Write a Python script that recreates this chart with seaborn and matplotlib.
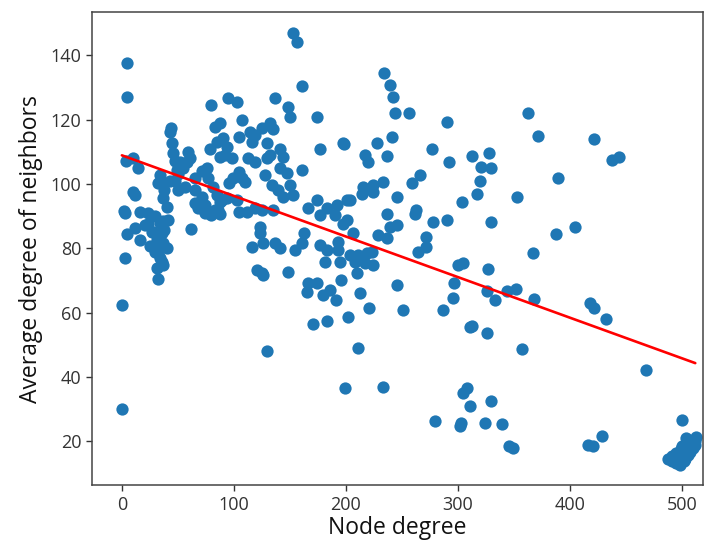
import numpy as np
import pandas as pd
import matplotlib
matplotlib.use("Agg")
import matplotlib.pyplot as plt
import seaborn as sns

# Node degree (x) and average degree of neighbors (y)
node_degree = [
    5, 5, 0, 0, 3, 2, 4, 10, 14, 10, 12, 3, 5, 32, 62, 37,
    16, 23, 29.5, 34, 20.5, 27, 32, 36.6, 11.6, 16, 25, 29.5, 34, 36.6, 38, 41,
    23, 28, 31, 32, 36, 40, 34, 31, 36,
    44, 43, 80, 45, 45.5, 47, 59, 61, 54.5, 50, 36, 38, 37, 40, 47, 50, 56, 65,
    71.5, 76, 65, 65, 68, 74, 80, 86, 89, 83, 78.5, 85, 87.5, 34, 32, 43, 49,
    52, 58, 77, 81, 85, 71.5, 74, 83,
    161, 95, 102.5, 137, 148, 150, 174, 107, 125, 132, 135, 87.5, 90, 114, 119,
    105, 116, 129.5, 177, 197, 141, 144, 132, 129.5, 94, 92, 98, 112.5, 119,
    141, 147, 161, 128, 105, 99, 107, 96, 110, 134, 139, 150, 153, 144, 87.5,
    94, 102.5, 105, 111.5, 119, 125, 135, 87.5, 166, 174, 183, 192, 177, 190,
    201, 201, 123, 123, 126, 116, 137, 141, 163, 161, 154.5, 177, 183, 193,
    193, 181, 195, 120.5, 125, 148, 166, 174, 196,
    239, 242, 244, 256, 290, 198, 228, 241, 217, 220, 237, 277, 292, 215, 224,
    233, 214, 224, 259, 266, 203.5, 245.5, 303.5, 197, 237, 239, 246, 261.5,
    263, 278, 290, 206, 228.5, 237, 272, 272, 264, 203.5, 211, 219, 223, 208,
    217, 224, 300, 304.5, 210, 245.5, 297, 212.5, 295.5, 221, 251, 286.5, 202,
    311,
    363, 372, 313, 328, 321, 330, 320, 317, 389, 353, 329.5, 404.5, 388, 367,
    327, 326, 333, 344, 352, 368, 418, 312.5, 326,
    422, 438, 444, 422, 432,
    153, 156, 234, 130, 126,
    165, 179.5, 186, 191, 170.5, 183, 211, 199, 233, 308, 304.5, 311, 330,
    279.5, 302.5, 302, 324, 339, 346,
    357, 468, 500, 349, 416, 420.5, 428.5,
    487.5, 491, 494.6, 498.2, 501.8, 497.3, 500.9, 504.5, 507.1, 510.7, 512.5,
    508.9, 503.6, 499.1, 494.6, 491, 505.4, 507.1, 509.8, 502.7, 496.4, 511.6,
    500, 506.3, 503.6, 512,
]
avg_neighbor_degree = [
    137.5, 127, 62.5, 30, 77, 91.5, 107, 108, 105, 97.5, 96.5, 91, 84.5, 70.5, 86, 88.5,
    91.2, 90.9, 90, 88, 87.1, 85, 83, 81.5, 86.2, 82.5, 80.6, 78.7, 76.9, 74.7, 85.6, 88.7,
    87.7, 85, 82.5, 78.4, 84.6, 80, 80.3, 74, 75.6,
    117.5, 116, 124.5, 112.6, 109.5, 107, 110, 108, 105, 103, 100.5, 98, 95.5, 92.7, 101, 98, 99, 98,
    104, 105, 102, 94, 92.4, 91, 90.2, 91.8, 95, 117.6, 111, 113, 108.3, 102.7, 100.2, 101, 104.2,
    106.7, 106.7, 102, 99, 96.5, 95.8, 93.3, 91.8,
    130.4, 126.6, 125.4, 126.6, 124, 120.7, 120.7, 119.8, 117.3, 118.9, 117, 118.9, 114.2, 116, 115.1,
    114.5, 113, 112.6, 111, 112.6, 111, 108.3, 108.9, 108, 111.4, 108.9, 108, 108, 106.7,
    104.9, 103.3, 104.2, 102.7, 103.6, 102, 101.7, 100.2, 100.5, 99.6, 98, 99.6, 96.5, 95.8, 94.3,
    95.5, 94.9, 91.2, 91.2, 92.4, 91.8, 91.8, 90.8, 92.4, 94.9, 92.4, 93.3, 90.2, 90.2,
    94.9, 88.7, 86.5, 84.6, 81.5, 80.3, 81.5, 80, 84.6, 81.5, 79.4, 80.9, 79.4, 81.8,
    79.4, 75.6, 75.6, 73.1, 72.2, 72.5, 69.1, 69.1, 70,
    130.7, 127, 122, 122, 119.2, 112.3, 112.6, 114.5, 108.9, 106.7, 108.6, 111, 106.7, 99, 99.6,
    100.5, 97, 97.4, 100.2, 102.7, 94.9, 95.8, 94.3, 87.7, 90.8, 86.5, 87.1, 90.8,
    91.8, 88.1, 88.7, 84.6, 84, 83.1, 83.4, 80.3, 78.7, 77.8, 77.8, 78.4, 78.7, 75.6,
    75.3, 74.7, 74.7, 75.3, 72.2, 68.5, 69.1, 66, 64.4, 61.3, 60.7, 60.7, 58.5,
    55.4,
    122, 114.8, 108.6, 109.5, 105.2, 104.9, 100.8, 97, 102, 95.8, 88.1, 86.5, 84.3, 78.4,
    73.7, 66.6, 63.8, 66.6, 67.2, 64.1, 62.9, 55.7, 53.5,
    113.9, 107.6, 108.3, 61.3, 57.9,
    146.8, 144, 134.4, 48.2, 71.6,
    66.3, 65.4, 66.9, 63.8, 56.6, 57.3, 48.9, 36.4, 37, 36.4, 34.9, 30.8, 32.4,
    26.2, 25.6, 24.7, 25.8, 25.2, 18.4,
    48.6, 42.3, 26.5, 18, 18.7, 18.4, 21.5,
    14.6, 13.7, 13.1, 12.5, 13.7, 15.6, 16.5, 17.5, 18.4, 19.6, 21.2,
    20.2, 19, 17.5, 16.2, 15.3, 15.6, 16.8, 17.8, 14.6, 14, 18.7,
    18.4, 20, 20.9, 20.2,
]

# Fitted regression line
fit_intercept = 108.9
fit_slope = -0.1262
fit_x_range = [0, 512]

df = pd.DataFrame({"Node degree": node_degree,
                   "Average degree of neighbors": avg_neighbor_degree})

sns.set_theme(style="ticks")
plt.rcParams["font.family"] = ["Open Sans", "DejaVu Sans"]

fig = plt.figure(figsize=(7.16, 5.41), dpi=100)
ax = fig.add_axes([0.128, 0.103, 0.854, 0.875])

sns.scatterplot(data=df, x="Node degree", y="Average degree of neighbors",
                color="#1f77b4", s=78, linewidth=0, alpha=1.0, ax=ax)

lx = np.array(fit_x_range, dtype=float)
ax.plot(lx, fit_intercept + fit_slope * lx, color="red", linewidth=1.9)

ax.set_xlim(-27, 519)
ax.set_ylim(6.3, 153.5)
ax.set_xticks([0, 100, 200, 300, 400, 500])
ax.set_yticks([20, 40, 60, 80, 100, 120, 140])
ax.tick_params(labelsize=13, length=4, width=1, colors="#333333")
ax.set_xlabel("Node degree", fontsize=16.5, color="#111111", labelpad=2)
ax.set_ylabel("Average degree of neighbors", fontsize=16.5, color="#111111", labelpad=5)
for sp in ax.spines.values():
    sp.set_visible(True)
    sp.set_color("#444444")
    sp.set_linewidth(1.1)

fig.savefig("out.png", dpi=100)
